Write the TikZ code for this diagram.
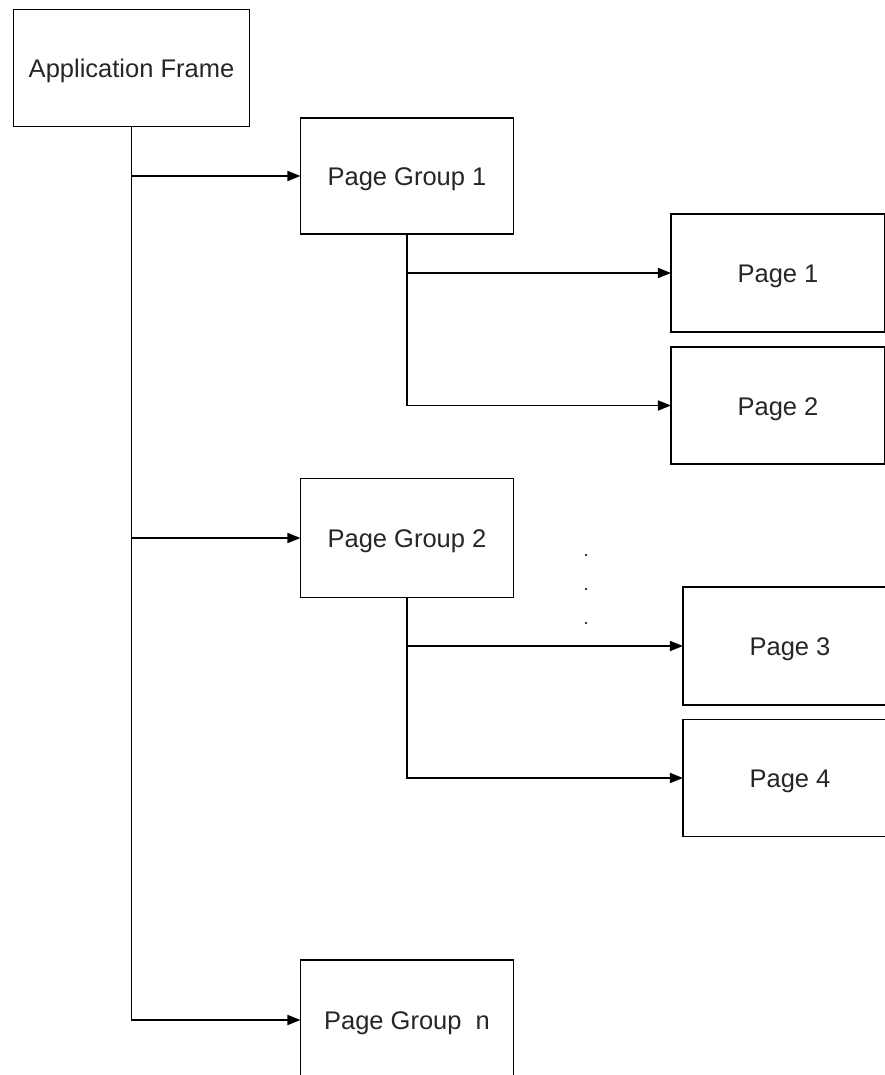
\documentclass[tikz,border=0pt]{standalone}
\usepackage{fontspec}
\setmainfont{Liberation Sans}
\usetikzlibrary{arrows.meta}
\begin{document}
\begin{tikzpicture}[x=1pt,y=-1pt,
  box/.style={draw=black, line width=1.7pt, fill=white, inner sep=0pt,
    font=\fontsize{25.5}{30}\selectfont, text=black!85,
    text height=19pt, text depth=0pt},
  link/.style={draw=black, line width=1.7pt},
  arr/.style={link, -{Triangle[length=13pt,width=10pt]}, shorten >=-0.8pt},
  dot/.style={fill=black!80}]
\useasboundingbox (0,0) rectangle (885,1075);
\clip (0,0) rectangle (885,1075);
\fill[white] (0,0) rectangle (885,1075);

% frame and page groups
\node[box, minimum width=236pt, minimum height=117pt] (app) at (131.5,68) {Application Frame};
\node[box, minimum width=213pt, minimum height=116pt] (pg1) at (407,176) {Page Group 1};
\node[box, minimum width=213pt, minimum height=119pt] (pg2) at (407,538) {Page Group 2};
\node[box, minimum width=213pt, minimum height=120pt] (pgn) at (407,1020) {Page Group\ \ n};

% pages
\node[box, minimum width=214pt, minimum height=118pt] (p1) at (778,273) {Page 1};
\node[box, minimum width=214pt, minimum height=117pt] (p2) at (778,405.5) {Page 2};
\node[box, minimum width=214pt, minimum height=118pt] (p3) at (790,646) {Page 3};
\node[box, minimum width=214pt, minimum height=117pt] (p4) at (790,778) {Page 4};

% trunk from the frame to every page group
\draw[arr] (app.south) |- (pgn.west);
\draw[arr] (app.south |- pg1.west) -- (pg1.west);
\draw[arr] (app.south |- pg2.west) -- (pg2.west);

% branches to the pages
\draw[arr] (pg1.south) |- (p2.west);
\draw[arr] (pg1.south |- p1.west) -- (p1.west);
\draw[arr] (pg2.south) |- (p4.west);
\draw[arr] (pg2.south |- p3.west) -- (p3.west);

% vertical ellipsis between the groups
\fill[dot] (586,555) circle (1.3pt);
\fill[dot] (586,589) circle (1.3pt);
\fill[dot] (586,623) circle (1.3pt);
\end{tikzpicture}
\end{document}
